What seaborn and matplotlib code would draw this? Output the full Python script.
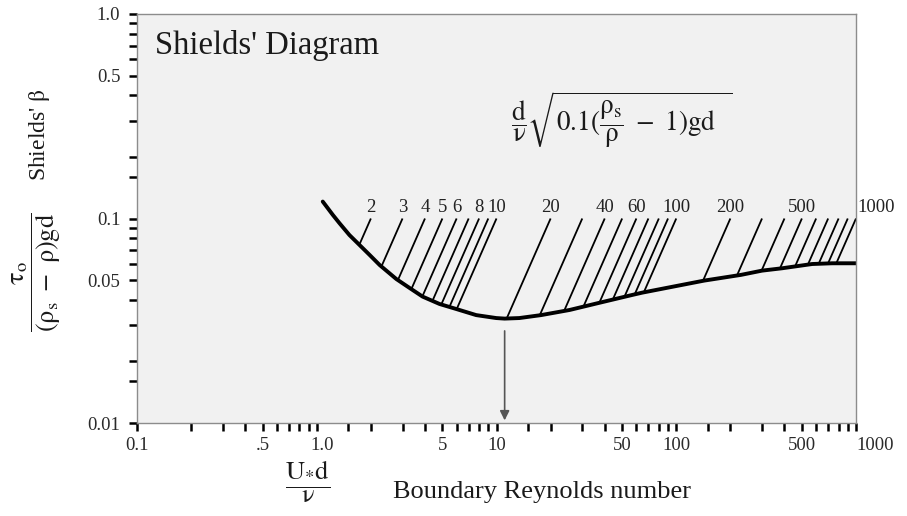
import numpy as np
import pandas as pd
import matplotlib
matplotlib.use("Agg")
import matplotlib.pyplot as plt
import matplotlib.transforms as mtransforms
import seaborn as sns
from matplotlib.ticker import FixedLocator, FixedFormatter, NullFormatter

# Shields' threshold curve: boundary Reynolds number vs. dimensionless shear stress
re_star = [1.08, 1.23, 1.34, 1.52, 1.73, 1.97, 2.24, 2.77, 3.29, 3.88, 4.82, 5.97,
           7.71, 9.96, 11.1, 13.4, 17.7, 25.5, 37.3, 57.0, 64.7, 143, 229, 300,
           388, 570, 736, 1000]
shields = [0.121, 0.104, 0.0947, 0.083, 0.0742, 0.0663, 0.0592, 0.0506, 0.0457,
           0.0415, 0.0382, 0.0361, 0.0337, 0.0326, 0.0324, 0.0326, 0.0337, 0.0357,
           0.0387, 0.0423, 0.0434, 0.0497, 0.053, 0.0556, 0.0571, 0.0599, 0.0604,
           0.0604]

# Grain parameter  (d/nu) * sqrt(0.1 (rho_s/rho - 1) g d)  for the sloping guide lines
grain_param = [2, 3, 4, 5, 6, 7, 8, 9, 10, 20, 30, 40, 50, 60, 70, 80, 90, 100,
               200, 300, 400, 500, 600, 700, 800, 900, 1000]
grain_labels = [2, 3, 4, 5, 6, 8, 10, 20, 40, 60, 100, 200, 500, 1000]

# Axis ticks
x_major = [0.1, 0.5, 1, 5, 10, 50, 100, 500, 1000]
x_major_text = ["0.1", ".5", "1.0", "5", "10", "50", "100", "500", "1000"]
y_major = [0.01, 0.05, 0.1, 0.5, 1.0]
y_major_text = ["0.01", "0.05", "0.1", "0.5", "1.0"]

sns.set_theme(style="white")
plt.rcParams["font.family"] = ["Liberation Serif", "DejaVu Serif"]
plt.rcParams["mathtext.fontset"] = "stix"
plt.rcParams["axes.unicode_minus"] = False

TXT = "#1a1a1a"

fig = plt.figure(figsize=(9.07, 5.16), dpi=100)
ax = fig.add_axes([137 / 907, 1 - 423 / 516, 719 / 907, 409 / 516])
ax.set_facecolor("#f1f1f1")

curve = pd.DataFrame({"re": re_star, "theta": shields})
sns.lineplot(data=curve, x="re", y="theta", ax=ax, color="black", lw=2.8,
             sort=False, estimator=None)

ax.set_xscale("log")
ax.set_yscale("log")
ax.set_xlim(0.1, 1000)
ax.set_ylim(0.01, 1.0)

# Each guide line has slope 2 in log-log space and passes through (P, 0.1);
# its lower end is where it meets the threshold curve.
log_re = np.log10(re_star)
log_th = np.log10(shields)
grid = np.linspace(log_re[0], log_re[-1], 4000)
curve_on_grid = np.interp(grid, log_re, log_th)
for p in grain_param:
    line_on_grid = np.log10(0.1) + 2 * (grid - np.log10(p))
    diff = curve_on_grid - line_on_grid
    idx = np.where(np.diff(np.sign(diff)) != 0)[0]
    i = idx[-1]
    t = diff[i] / (diff[i] - diff[i + 1])
    lr = grid[i] + t * (grid[i + 1] - grid[i])
    foot_re = 10 ** lr
    foot_th = 0.1 * (foot_re / p) ** 2
    ax.plot([foot_re, p], [foot_th, 0.1], color="black", lw=1.3,
            solid_capstyle="butt", zorder=2)

for p in grain_labels:
    last = p == grain_labels[-1]
    ax.annotate(str(p), xy=(p, 0.1), xytext=(1 if last else 0, 2),
                textcoords="offset points", ha="left" if last else "center",
                va="bottom", fontsize=13.5, color="#222222", annotation_clip=False)

# Critical boundary Reynolds number at the curve minimum
re_crit = re_star[int(np.argmin(shields))]
ax.annotate("", xy=(re_crit, 0.0103), xytext=(re_crit, 0.0282),
            arrowprops=dict(arrowstyle="-|>", color="#555555", lw=1.2,
                            mutation_scale=14, shrinkA=0, shrinkB=0))

# Ticks
x_minor = ([0.1 * k for k in range(2, 10)] +
           [d * k for d in (1, 10, 100) for k in (1.5, 2, 3, 4, 6, 7, 8, 9)])
x_minor = [v for v in x_minor if v not in x_major]
y_minor = [d * k for d in (0.01, 0.1) for k in (1.6, 2, 3, 4, 5, 6, 7, 8, 9)]
y_minor = [v for v in y_minor if not any(abs(v - m) < 1e-9 for m in y_major)]

ax.xaxis.set_major_locator(FixedLocator(x_major))
ax.xaxis.set_major_formatter(FixedFormatter(x_major_text))
ax.xaxis.set_minor_locator(FixedLocator(x_minor))
ax.xaxis.set_minor_formatter(NullFormatter())
ax.yaxis.set_major_locator(FixedLocator(y_major))
ax.yaxis.set_major_formatter(FixedFormatter(y_major_text))
ax.yaxis.set_minor_locator(FixedLocator(y_minor))
ax.yaxis.set_minor_formatter(NullFormatter())

for which in ("major", "minor"):
    ax.tick_params(axis="both", which=which, direction="out", length=6,
                   width=1.8, color="black", labelsize=13.5, labelcolor="#2a2a2a",
                   bottom=True, left=True, top=False, right=False)
ax.tick_params(axis="y", which="major", pad=6)
ax.tick_params(axis="x", which="major", pad=4)

# Nudge the "1.0" label slightly right and hang "1000" off the right edge
fig.canvas.draw()
xlabels = ax.get_xticklabels()
shift = mtransforms.ScaledTranslation(5 / 100, 0, fig.dpi_scale_trans)
xlabels[2].set_transform(xlabels[2].get_transform() + shift)
xlabels[-1].set_horizontalalignment("left")

for s in ax.spines.values():
    s.set_color("#8c8c8c")
    s.set_linewidth(1.0)
ax.set_xlabel("")
ax.set_ylabel("")

# Text annotations
ax.text(0.025, 0.924, "Shields' Diagram", transform=ax.transAxes, fontsize=23.5,
        ha="left", va="center", color=TXT)
ax.text(0.674, 0.742,
        r"$\dfrac{\mathrm{d}}{\mathrm{\nu}}\sqrt{\mathrm{0.1(}\dfrac{\mathrm{\rho_s}}{\mathrm{\rho}}\mathrm{\ -\ 1)gd}\ \ }$",
        transform=ax.transAxes, fontsize=19.5, ha="center", va="center", color=TXT)

fig.text(0.044, 0.74, r"Shields' $\mathrm{\beta}$", rotation=90, fontsize=17,
         ha="center", va="center", color=TXT)
fig.text(0.040, 0.473, r"$\dfrac{\mathrm{\tau_o}}{\mathrm{(\rho_s\ -\ \rho)gd}}$",
         rotation=90, fontsize=19, ha="center", va="center", color=TXT)
fig.text(0.339, 0.066, r"$\dfrac{\mathrm{U_{*}d}}{\mathrm{\nu}}$", fontsize=19,
         ha="center", va="center", color=TXT)
fig.text(0.433, 0.047, "Boundary Reynolds number", fontsize=19, ha="left",
         va="center", color=TXT)

fig.savefig("out.png", dpi=100, facecolor="white")
